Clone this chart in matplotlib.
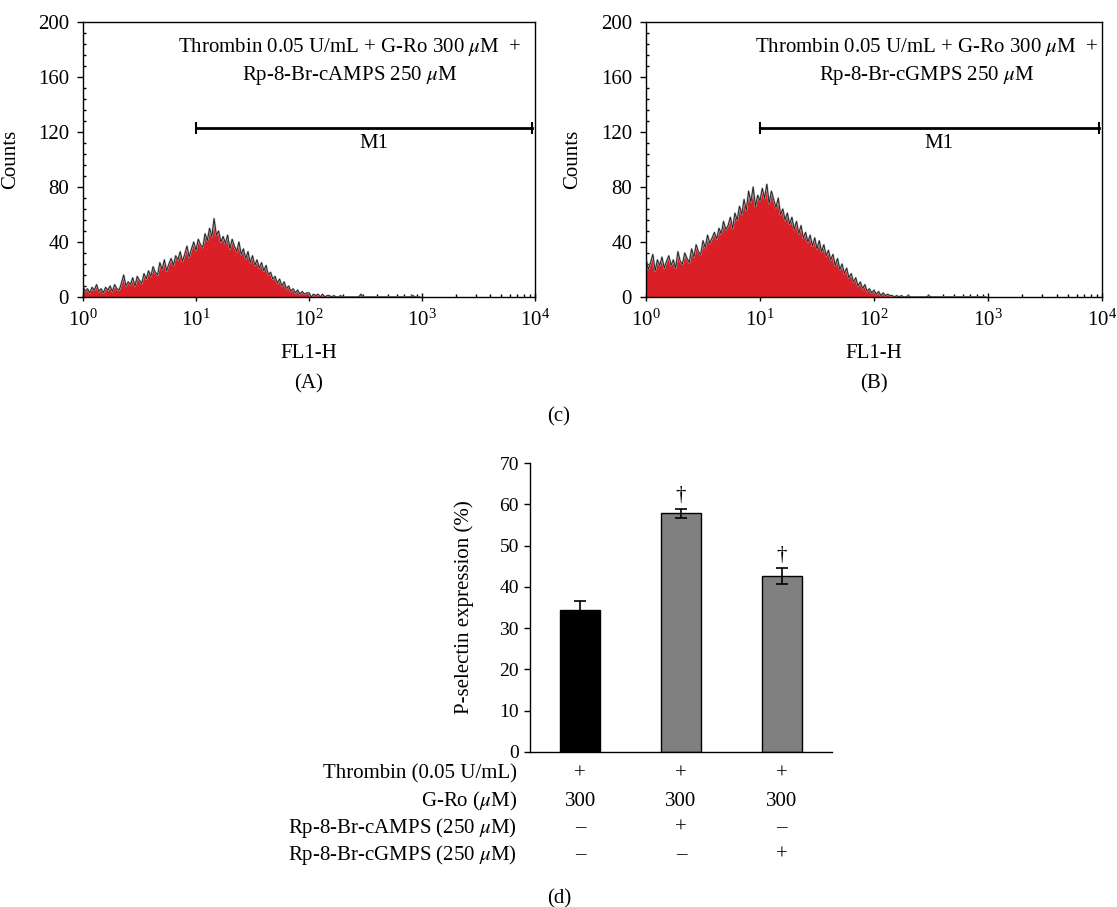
"""
Flow cytometry histograms (FL1-H) and P-selectin expression bar chart.
"""
import numpy as np
import matplotlib
matplotlib.use("Agg")
import matplotlib.pyplot as plt
import matplotlib.transforms as mtrans
from matplotlib.ticker import MultipleLocator, LogLocator, NullFormatter

plt.rcParams["font.family"] = ["Liberation Serif", "DejaVu Serif"]
plt.rcParams["mathtext.fontset"] = "stix"

# ── data ──────────────────────────────────────────────────────────────────
BINS_PER_DECADE = 50          # histogram channels per log decade, from 10^0

# panel (A): Thrombin + G-Ro + Rp-8-Br-cAMPS
HIST_A = [
    8, 4, 6, 3, 7, 5, 9, 4, 6, 3,
    7, 5, 8, 4, 9, 6, 5, 10, 16, 8,
    11, 9, 14, 8, 15, 12, 10, 17, 13, 19,
    15, 22, 18, 16, 25, 20, 27, 19, 24, 28,
    23, 30, 27, 33, 26, 31, 37, 29, 35, 40,
    34, 42, 38, 36, 46, 41, 50, 44, 57, 45,
    48, 40, 44, 39, 45, 35, 42, 37, 33, 40,
    31, 35, 28, 33, 25, 30, 23, 27, 21, 25,
    19, 23, 16, 18, 13, 15, 10, 13, 8, 11,
    6, 8, 4, 6, 3, 5, 2, 4, 2, 3,
    3, 0, 2, 1, 2, 0, 2, 0, 1, 1,
    0, 1, 0, 0, 1, 0, 0, 0, 0, 0,
    0, 0, 0, 2, 0, 0, 0, 0, 0, 0,
    0, 0, 0, 0, 0, 0, 0, 0, 0, 0,
    0, 0, 0, 0, 0, 0, 1, 0, 0, 0,
]

# panel (B): Thrombin + G-Ro + Rp-8-Br-cGMPS
HIST_B = [
    28, 20, 25, 31, 19, 27, 23, 29, 21, 26,
    30, 23, 27, 21, 33, 26, 24, 32, 28, 25,
    35, 29, 38, 33, 31, 41, 36, 45, 39, 43,
    47, 42, 50, 46, 55, 49, 52, 58, 50, 61,
    56, 66, 60, 71, 63, 77, 69, 80, 66, 74,
    70, 79, 72, 82, 68, 77, 71, 65, 72, 60,
    64, 56, 61, 53, 58, 49, 55, 46, 52, 43,
    47, 40, 45, 37, 43, 35, 41, 33, 38, 30,
    34, 27, 31, 23, 28, 20, 24, 17, 21, 14,
    17, 11, 14, 8, 11, 6, 9, 4, 6, 3,
    5, 2, 4, 1, 3, 1, 2, 1, 1, 0,
    1, 0, 1, 0, 0, 1, 0, 0, 0, 0,
    0, 0, 0, 0, 1, 0, 0, 0, 0, 0,
    0, 0, 0, 0, 0, 0, 0, 0, 0, 0,
    0, 0, 0, 0, 0, 0, 0, 0, 0, 0,
]

HIST_TITLES = [
    ("Thrombin 0.05 U/mL + G-Ro 300 $\\mu$M  +", "Rp-8-Br-cAMPS 250 $\\mu$M"),
    ("Thrombin 0.05 U/mL + G-Ro 300 $\\mu$M  +", "Rp-8-Br-cGMPS 250 $\\mu$M"),
]
M1_RANGE = [10, 9400]
M1_LEVEL = 123

# panel (d)
BAR_MEANS = [34.3, 57.8, 42.6]
BAR_ERRS = [2.3, 1.1, 1.9]
BAR_COLORS = ["#000000", "#808080", "#808080"]
BAR_MARKS = ["", "\u2020", "\u2020"]
ROW_LABELS = ["Thrombin (0.05 U/mL)", "G-Ro ($\\mu$M)",
              "Rp-8-Br-cAMPS (250 $\\mu$M)", "Rp-8-Br-cGMPS (250 $\\mu$M)"]
ROW_VALUES = [["+", "+", "+"],
              ["300", "300", "300"],
              ["\u2013", "+", "\u2013"],
              ["\u2013", "\u2013", "+"]]

FS = 15

# ── layout ────────────────────────────────────────────────────────────────
W, H = 1117, 907
fig = plt.figure(figsize=(W / 100, H / 100), dpi=100)


def px_axes(left, top, right, bottom):
    return fig.add_axes([left / W, 1 - bottom / H, (right - left) / W, (bottom - top) / H])


def draw_hist(ax, counts, titles, xtitle_frac, m1_label_x, panel):
    counts = np.asarray(counts, dtype=float)
    x = 10 ** (np.arange(len(counts)) / BINS_PER_DECADE)
    ax.fill_between(x, counts, 0, color="#da1f26", lw=0, zorder=2)
    ax.plot(x, counts, color="#a8a8a8", lw=1.4, zorder=2.5)
    ax.plot(x, counts, color="#1a1a1a", lw=0.6, zorder=3)
    ax.set_xscale("log")
    ax.set_xlim(1, 1e4)
    ax.set_ylim(0, 200)
    ax.yaxis.set_major_locator(MultipleLocator(40))
    ax.yaxis.set_minor_locator(MultipleLocator(8))
    ax.xaxis.set_major_locator(LogLocator(base=10, numticks=10))
    ax.xaxis.set_minor_locator(LogLocator(base=10, subs=np.arange(2, 10), numticks=20))
    ax.xaxis.set_minor_formatter(NullFormatter())
    ax.tick_params(axis="both", which="major", labelsize=FS, length=4, width=1, pad=6)
    ax.tick_params(axis="x", which="major", direction="inout", length=6)
    ax.tick_params(axis="both", which="minor", direction="in", length=2.5, width=1)
    for sp in ax.spines.values():
        sp.set_linewidth(1.0)

    ax.set_ylabel("Counts", fontsize=FS)
    ax.yaxis.set_label_coords(-0.14, 0.5)
    ax.set_xlabel("FL1-H", fontsize=FS, va="center")
    ax.xaxis.set_label_coords(0.5, -0.204)
    ax.text(0.5, -0.316, panel, transform=ax.transAxes, ha="center", va="center", fontsize=FS)

    ax.text(xtitle_frac, 0.909, titles[0], transform=ax.transAxes,
            ha="center", va="center", fontsize=FS)
    ax.text(xtitle_frac, 0.804, titles[1], transform=ax.transAxes,
            ha="center", va="center", fontsize=FS)

    ax.plot(M1_RANGE, [M1_LEVEL, M1_LEVEL], color="k", lw=2, marker="|", ms=9, mew=1.5)
    ax.text(m1_label_x, 112, "M1", ha="center", va="center", fontsize=FS)


axA = px_axes(83, 22, 535, 297)
axB = px_axes(646, 22, 1102, 297)
draw_hist(axA, HIST_A, HIST_TITLES[0], 0.59, 10 ** 2.57, "(A)")
draw_hist(axB, HIST_B, HIST_TITLES[1], 0.615, 10 ** 2.57, "(B)")

fig.text(559 / W, 1 - 417 / H, "(c)", ha="center", va="center", fontsize=FS)

# ── bar chart ─────────────────────────────────────────────────────────────
axC = px_axes(530, 463, 832, 752)
pos = np.arange(len(BAR_MEANS))
axC.bar(pos, BAR_MEANS, width=0.4, color=BAR_COLORS, edgecolor="k", lw=1, zorder=2)
axC.errorbar(pos, BAR_MEANS, yerr=BAR_ERRS, fmt="none", ecolor="k", elinewidth=1.2,
             capsize=4, capthick=1.2, zorder=3)
for p, m, e, mark in zip(pos, BAR_MEANS, BAR_ERRS, BAR_MARKS):
    if mark:
        axC.text(p, m + e + 3.2, mark, ha="center", va="center", fontsize=FS)

axC.set_xlim(-0.5, 2.5)
axC.set_ylim(0, 70)
axC.yaxis.set_major_locator(MultipleLocator(10))
axC.set_xticks([])
axC.spines["top"].set_visible(False)
axC.spines["right"].set_visible(False)
axC.spines["left"].set_linewidth(1)
axC.spines["bottom"].set_linewidth(1)
axC.tick_params(axis="y", labelsize=14, length=4, width=1, pad=4)
axC.set_ylabel("P-selectin expression (%)", fontsize=FS)
axC.yaxis.set_label_coords(-0.185, 0.5)

# treatment table under the bars
tr = mtrans.blended_transform_factory(axC.transData, fig.transFigure)
row_y = [774, 801, 828, 855]
for label, vals, y in zip(ROW_LABELS, ROW_VALUES, row_y):
    fig.text(517 / W, 1 - y / H, label, ha="right", va="center", fontsize=FS)
    for p, v in zip(pos, vals):
        axC.text(p, 1 - y / H, v, transform=tr, ha="center", va="center",
                 fontsize=FS, clip_on=False)

fig.text(559 / W, 1 - 899 / H, "(d)", ha="center", va="center", fontsize=FS)

fig.savefig("out.png", dpi=100)
